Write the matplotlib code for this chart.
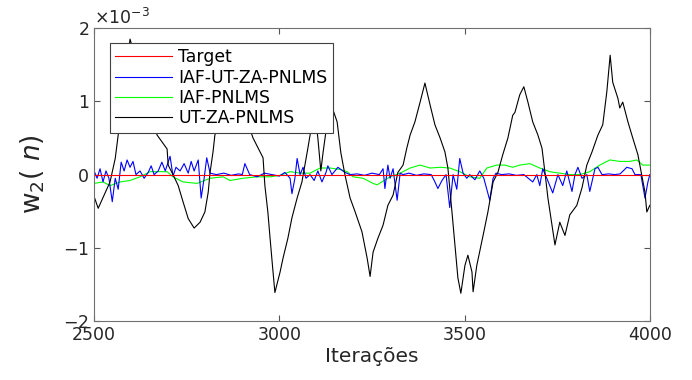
import matplotlib
matplotlib.use("Agg")
import matplotlib.pyplot as plt
from matplotlib.ticker import ScalarFormatter

plt.rcParams["axes.unicode_minus"] = False

# Valeurs (unite : 1e-3)
target_iter = [2500, 4000]
target_val = [0.0, 0.0]

# IAF-UT-ZA-PNLMS (bleu)
iaf_ut_iter = [2500, 2508, 2516, 2524, 2532, 2540, 2549, 2557, 2565, 2573, 2581, 2589, 2597, 2605,
               2613, 2624, 2635, 2646, 2654, 2662, 2673, 2683, 2692, 2705, 2713, 2721, 2732, 2743,
               2754, 2762, 2770, 2781, 2789, 2797, 2804, 2813, 2830, 2850, 2870, 2890, 2900, 2907,
               2920, 2940, 2960, 2980, 3000, 3015, 3029, 3034, 3042, 3048, 3056, 3064, 3072, 3083,
               3094, 3104, 3115, 3126, 3131, 3142, 3158, 3177, 3191, 3210, 3230, 3250, 3270, 3280,
               3285, 3293, 3299, 3307, 3318, 3326, 3334, 3350, 3370, 3390, 3410, 3420, 3428, 3439,
               3450, 3460, 3469, 3479, 3487, 3496, 3506, 3514, 3528, 3541, 3552, 3560, 3568, 3577,
               3585, 3600, 3620, 3640, 3660, 3684, 3695, 3703, 3711, 3722, 3738, 3752, 3765, 3776,
               3790, 3798, 3806, 3817, 3830, 3838, 3852, 3860, 3871, 3890, 3905, 3920, 3938, 3952,
               3960, 3976, 3987, 3995, 4000]
iaf_ut_val = [0.05, -0.05, 0.08, -0.10, 0.05, -0.05, -0.37, -0.05, -0.20, 0.17, 0.05, 0.20, 0.10, 0.18,
              0.00, 0.05, -0.05, 0.03, 0.12, 0.00, 0.05, 0.17, 0.05, 0.25, -0.02, 0.10, 0.05, 0.15,
              0.02, 0.18, 0.05, 0.20, -0.32, -0.05, 0.23, 0.02, 0.00, 0.02, -0.01, 0.01, 0.00, 0.15,
              0.00, -0.03, 0.02, 0.00, -0.02, 0.03, -0.05, -0.26, -0.05, 0.22, 0.00, 0.10, -0.05, 0.00,
              -0.08, 0.05, -0.10, 0.03, 0.12, 0.00, 0.10, 0.03, 0.00, 0.01, -0.01, 0.02, 0.00, 0.08,
              -0.19, 0.13, -0.05, 0.08, -0.35, 0.02, 0.00, 0.02, -0.01, 0.01, 0.00, -0.10, -0.19, -0.08,
              0.00, -0.45, 0.00, -0.20, 0.22, 0.02, -0.05, 0.00, -0.07, 0.05, -0.05, -0.20, -0.35, -0.05,
              0.02, 0.00, 0.01, -0.01, 0.00, -0.10, 0.00, -0.15, 0.08, -0.05, -0.25, 0.00, -0.15, 0.05,
              -0.23, 0.00, 0.10, -0.05, 0.00, -0.23, 0.08, 0.10, 0.00, 0.01, 0.00, 0.01, 0.10, 0.08,
              0.00, 0.00, -0.32, -0.10, 0.00]

# IAF-PNLMS (vert)
iaf_iter = [2500, 2524, 2543, 2570, 2597, 2624, 2651, 2678, 2697, 2713, 2740, 2778, 2813, 2848,
            2867, 2902, 2940, 2975, 3002, 3029, 3056, 3083, 3110, 3137, 3164, 3183, 3199, 3226,
            3253, 3264, 3299, 3326, 3353, 3380, 3407, 3434, 3460, 3487, 3514, 3541, 3560, 3587,
            3609, 3630, 3649, 3676, 3703, 3730, 3757, 3784, 3811, 3838, 3865, 3892, 3919, 3946,
            3965, 3981, 4000]
iaf_val = [-0.12, -0.10, -0.15, -0.10, -0.08, -0.03, 0.04, 0.04, 0.04, -0.03, -0.10, -0.12, -0.05, -0.03,
           -0.08, -0.05, -0.03, -0.03, -0.01, 0.04, 0.02, 0.02, 0.09, 0.09, 0.07, 0.04, -0.03, -0.05,
           -0.12, -0.14, -0.03, 0.02, 0.09, 0.13, 0.09, 0.10, 0.09, 0.04, -0.03, -0.05, 0.09, 0.13,
           0.13, 0.10, 0.13, 0.15, 0.09, 0.04, 0.02, 0.00, 0.00, 0.04, 0.13, 0.20, 0.18, 0.18,
           0.20, 0.13, 0.13]

# UT-ZA-PNLMS (noir)
ut_iter = [2500, 2511, 2543, 2557, 2565, 2597, 2670, 2697, 2700, 2713, 2727, 2740, 2754, 2770,
           2786, 2799, 2808, 2813, 2821, 2826, 2875, 2929, 2956, 2961, 2969, 2975, 2983, 2988,
           3002, 3010, 3023, 3034, 3048, 3061, 3069, 3077, 3083, 3094, 3104, 3112, 3118, 3137,
           3156, 3166, 3177, 3191, 3204, 3223, 3237, 3245, 3253, 3266, 3280, 3293, 3307, 3320,
           3334, 3344, 3353, 3366, 3380, 3393, 3407, 3420, 3434, 3447, 3455, 3466, 3474, 3482,
           3490, 3501, 3509, 3520, 3523, 3533, 3550, 3563, 3577, 3590, 3603, 3617, 3630, 3636,
           3649, 3660, 3671, 3684, 3698, 3709, 3717, 3725, 3736, 3744, 3757, 3771, 3784, 3803,
           3817, 3830, 3844, 3860, 3873, 3884, 3893, 3900, 3914, 3919, 3927, 3941, 3954, 3968,
           3978, 3987, 3992, 4000]
ut_val = [-0.30, -0.46, -0.10, 0.22, 0.54, 1.85, 0.54, 0.35, 0.13, 0.00, -0.15, -0.37, -0.60, -0.73,
          -0.65, -0.51, -0.24, 0.03, 0.31, 0.54, 1.30, 0.50, 0.23, -0.15, -0.51, -0.87, -1.33, -1.61,
          -1.33, -1.14, -0.87, -0.59, -0.32, -0.10, 0.13, 0.36, 0.54, 0.90, 0.50, 0.05, 0.30, 1.00,
          0.72, 0.30, 0.00, -0.32, -0.50, -0.78, -1.14, -1.39, -1.06, -0.87, -0.69, -0.42, -0.28, 0.03,
          0.13, 0.36, 0.54, 0.72, 0.99, 1.25, 0.95, 0.68, 0.50, 0.31, 0.09, -0.51, -0.96, -1.41,
          -1.62, -1.24, -1.10, -1.33, -1.60, -1.24, -0.83, -0.51, -0.10, 0.03, 0.27, 0.50, 0.81, 0.85,
          1.09, 1.20, 0.99, 0.72, 0.54, 0.36, 0.03, -0.32, -0.69, -0.96, -0.65, -0.83, -0.55, -0.42,
          -0.18, 0.13, 0.31, 0.54, 0.68, 1.13, 1.63, 1.26, 1.04, 0.91, 0.99, 0.72, 0.50, 0.27,
          0.00, -0.24, -0.51, -0.42]

echelle = 1e-3

fig = plt.figure(figsize=(6.92, 3.8), dpi=100)
ax = fig.add_axes([0.136, 0.155, 0.803, 0.771])

ax.plot(target_iter, [v * echelle for v in target_val], color="red", lw=0.8, label="Target", zorder=2.4)
ax.plot(iaf_ut_iter, [v * echelle for v in iaf_ut_val], color="blue", lw=0.8, label="IAF-UT-ZA-PNLMS", zorder=2.2)
ax.plot(iaf_iter, [v * echelle for v in iaf_val], color="#00ff00", lw=0.8, label="IAF-PNLMS", zorder=2.1)
ax.plot(ut_iter, [v * echelle for v in ut_val], color="black", lw=0.8, label="UT-ZA-PNLMS", zorder=2.3)

ax.set_xlim(2500, 4000)
ax.set_ylim(-2e-3, 2e-3)
ax.set_xticks([2500, 3000, 3500, 4000])
ax.set_yticks([-2e-3, -1e-3, 0, 1e-3, 2e-3])

fmt = ScalarFormatter(useMathText=True)
fmt.set_powerlimits((-3, -3))
ax.yaxis.set_major_formatter(fmt)
ax.yaxis.get_offset_text().set_fontsize(12.5)
ax.yaxis.get_offset_text().set_color("#262626")

ax.tick_params(direction="in", length=4, width=0.8, top=True, right=True,
               labelsize=12.5, labelcolor="#262626", color="#555555")
for s in ax.spines.values():
    s.set_color("#707070")
    s.set_linewidth(0.8)

ax.set_xlabel("Iterações", fontsize=14.5, color="#262626", labelpad=2)
ax.set_ylabel("w$_2$( $n$)", fontsize=19, color="#262626", labelpad=12)

leg = ax.legend(loc="upper left", bbox_to_anchor=(0.029, 0.949), borderaxespad=0,
                fontsize=12.4, handlelength=3.3, handletextpad=0.35, labelspacing=0.14,
                borderpad=0.3, fancybox=False, framealpha=1, facecolor="white")
leg.set_zorder(10)
leg.get_frame().set_edgecolor("#404040")
leg.get_frame().set_linewidth(0.8)
for t in leg.get_texts():
    t.set_color("black")

fig.savefig("out.png", dpi=100)
